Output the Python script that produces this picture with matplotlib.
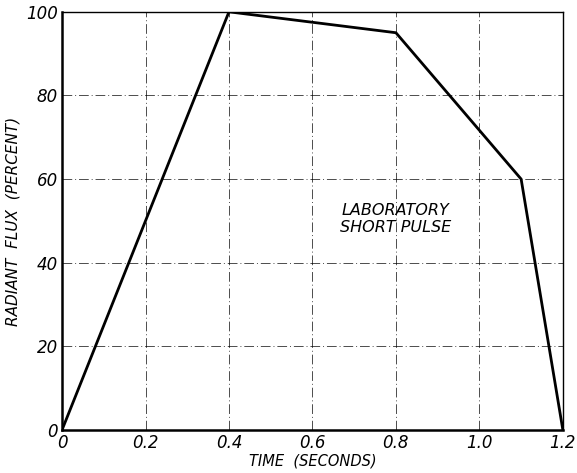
import matplotlib
matplotlib.use("Agg")
import matplotlib.pyplot as plt

# Laboratory short pulse: radiant flux (percent) vs time (seconds)
time_s = [0.0, 0.4, 0.8, 1.1, 1.2]
flux_pct = [0, 100, 95, 60, 0]

x_ticks = [0.0, 0.2, 0.4, 0.6, 0.8, 1.0, 1.2]
x_labels = ["0", "0.2", "0.4", "0.6", "0.8", "1.0", "1.2"]
y_ticks = [0, 20, 40, 60, 80, 100]
y_labels = ["0", "20", "40", "60", "80", "100"]

fig = plt.figure(figsize=(5.77, 4.73), dpi=100)
ax = fig.add_axes([0.1075, 0.091, 0.868, 0.884])

ax.plot(time_s, flux_pct, color="black", lw=2.0, solid_joinstyle="miter", zorder=3)

ax.set_xlim(0, 1.2)
ax.set_ylim(0, 100)
ax.set_xticks(x_ticks)
ax.set_xticklabels(x_labels, fontsize=12, style="italic")
ax.set_yticks(y_ticks)
ax.set_yticklabels(y_labels, fontsize=12, style="italic")
ax.tick_params(length=0, pad=3)

ax.grid(True, color="black", lw=0.7, linestyle=(0, (10, 3, 1, 3)), alpha=0.7)

for side in ["left", "bottom"]:
    ax.spines[side].set_linewidth(1.8)
for side in ["top", "right"]:
    ax.spines[side].set_linewidth(1.0)

ax.text(0.8, 50.5, "LABORATORY\nSHORT PULSE", ha="center", va="center",
        fontsize=11.5, style="italic", linespacing=1.15)

ax.set_xlabel("TIME  (SECONDS)", fontsize=10.5, style="italic", labelpad=1)
ax.set_ylabel("RADIANT  FLUX  (PERCENT)", fontsize=11, style="italic", labelpad=4)

fig.savefig("out.png", dpi=100)
